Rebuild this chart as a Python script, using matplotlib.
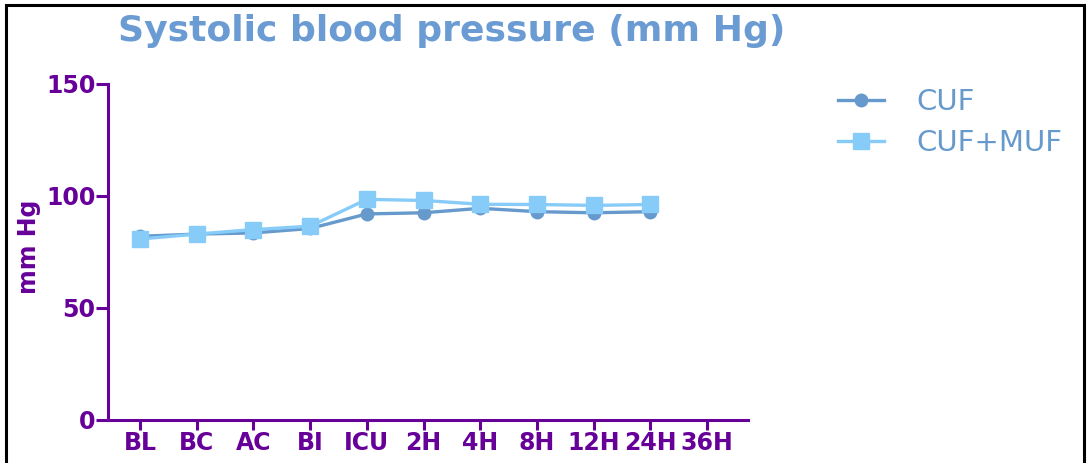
import matplotlib
matplotlib.use("Agg")
import matplotlib.pyplot as plt
from matplotlib.patches import Rectangle

# data
timepoints = ["BL", "BC", "AC", "BI", "ICU", "2H", "4H", "8H", "12H", "24H", "36H"]
cuf = [82, 83, 83.5, 85.5, 92, 92.5, 94.5, 93, 92.5, 93]
cuf_muf = [80.8, 83, 85, 86.5, 98.5, 98, 96.3, 96.2, 95.8, 96.2]
yticks = [0, 50, 100, 150]

purple = "#660099"
dark_blue = "#6699CC"
light_blue = "#87CCF8"
title_blue = "#6A9BD3"

plt.rcParams["font.family"] = ["DejaVu Sans"]

fig = plt.figure(figsize=(10.88, 4.63), dpi=100)
ax = fig.add_axes([0.0993, 0.0929, 0.5882, 0.7257])

x_cuf = list(range(len(cuf)))
x_muf = list(range(len(cuf_muf)))
ax.plot(x_cuf, cuf, color=dark_blue, lw=2.4, marker="o", ms=9, label="CUF", zorder=3)
ax.plot(x_muf, cuf_muf, color=light_blue, lw=2.4, marker="s", ms=12, label="CUF+MUF", zorder=4)

ax.set_xlim(-0.564, 10.72)
ax.set_ylim(0, 150)
ax.set_xticks(range(len(timepoints)))
ax.set_xticklabels(timepoints)
ax.set_yticks(yticks)
ax.set_yticklabels([str(v) for v in yticks])

for s in ["top", "right"]:
    ax.spines[s].set_visible(False)
for s in ["left", "bottom"]:
    ax.spines[s].set_color(purple)
    ax.spines[s].set_linewidth(2.2)

ax.tick_params(axis="y", direction="out", length=9, width=2.2, color=purple,
               labelcolor=purple, labelsize=17, pad=0)
ax.tick_params(axis="x", direction="out", length=7, width=2.2, color=purple,
               labelcolor=purple, labelsize=17, pad=1)
for lbl in ax.get_xticklabels() + ax.get_yticklabels():
    lbl.set_fontweight("bold")

ax.set_ylabel("mm Hg", color=purple, fontsize=17, fontweight="bold")
ax.yaxis.set_label_coords(-0.104, 0.515)

fig.text(0.4156, 0.933, "Systolic blood pressure (mm Hg)", color=title_blue,
         fontsize=26, fontweight="bold", ha="center", va="center")

leg = ax.legend(loc="upper left", bbox_to_anchor=(0.770, 0.81), bbox_transform=fig.transFigure,
                frameon=False, fontsize=21, handlelength=1.6, handletextpad=1.1,
                labelspacing=0.45, borderaxespad=0, borderpad=0)
for t in leg.get_texts():
    t.set_color(dark_blue)

# outer frame of the picture
fig.patches.append(Rectangle((0.0055, -0.05), 0.9905, 1.039, transform=fig.transFigure,
                             fill=False, edgecolor="black", lw=2.2))

fig.savefig("out.png", dpi=100)
